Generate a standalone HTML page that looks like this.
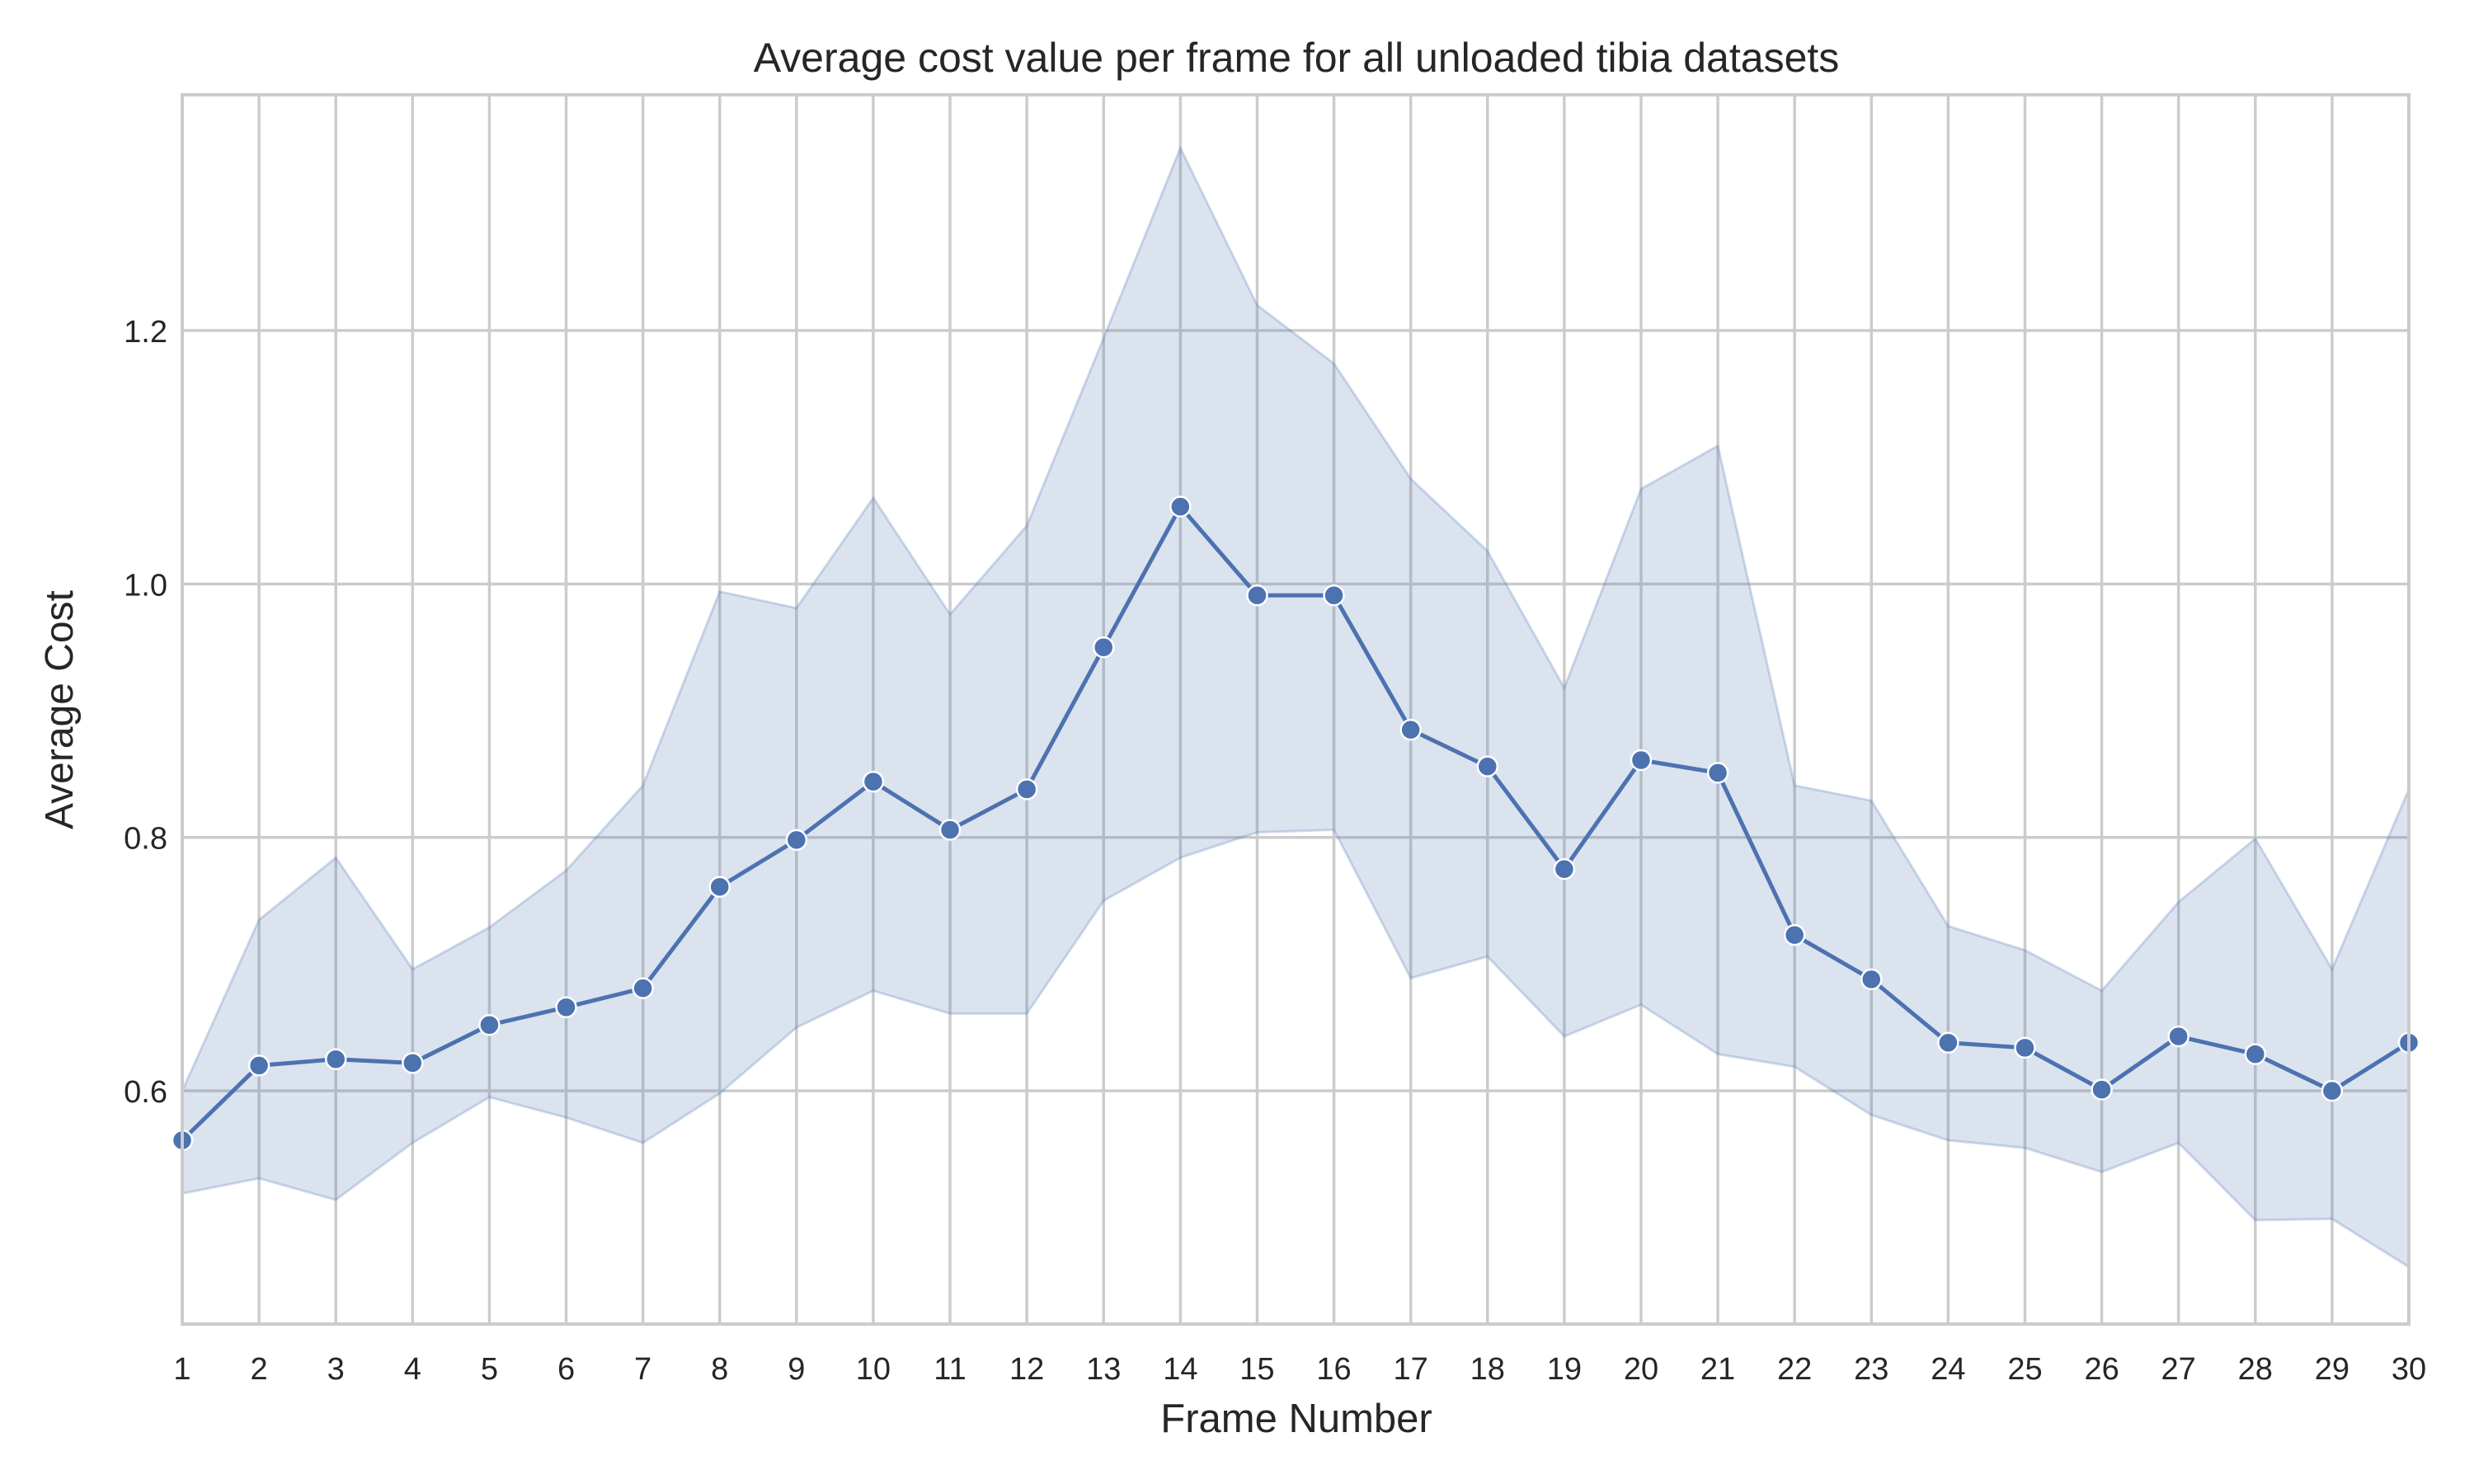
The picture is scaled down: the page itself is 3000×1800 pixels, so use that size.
<!DOCTYPE html>
<html><head><meta charset="utf-8"><style>
html,body{margin:0;padding:0;background:#fff;}
svg{display:block;font-family:"Liberation Sans",Arial,sans-serif;}
</style></head><body>
<svg id="chart" width="3000" height="1800" viewBox="0 0 3000 1800">
<rect width="3000" height="1800" fill="#fff"/>
<g id="grid"></g>
<g id="band"></g>
<g id="series"></g>
<g id="spines"></g>
<g id="ticks"></g>
<text x="1572" y="87" font-size="50" text-anchor="middle" fill="#262626">Average cost value per frame for all unloaded tibia datasets</text>
<text x="1572" y="1737" font-size="49" text-anchor="middle" fill="#262626">Frame Number</text>
<text x="0" y="0" font-size="48" text-anchor="middle" fill="#262626" transform="translate(88,861) rotate(-90)">Average Cost</text>
</svg>
<script>
const frames = [1,2,3,4,5,6,7,8,9,10,11,12,13,14,15,16,17,18,19,20,21,22,23,24,25,26,27,28,29,30];
const meanCost = [0.561,0.620,0.625,0.622,0.652,0.666,0.681,0.761,0.798,0.844,0.806,0.838,0.950,1.061,0.991,0.991,0.885,0.856,0.775,0.861,0.851,0.723,0.688,0.638,0.634,0.601,0.643,0.629,0.600,0.638];
const upperCost = [0.600,0.735,0.784,0.696,0.729,0.774,0.841,0.994,0.981,1.068,0.976,1.046,1.194,1.344,1.220,1.174,1.083,1.026,0.918,1.075,1.109,0.841,0.829,0.730,0.711,0.679,0.749,0.799,0.696,0.838];
const lowerCost = [0.519,0.531,0.514,0.559,0.595,0.579,0.559,0.598,0.650,0.679,0.661,0.661,0.750,0.784,0.804,0.806,0.689,0.706,0.643,0.668,0.629,0.619,0.581,0.561,0.555,0.536,0.559,0.498,0.499,0.461];
const yTicks = [0.6,0.8,1.0,1.2];
const yTickLabels = ["0.6","0.8","1.0","1.2"];

const NS="http://www.w3.org/2000/svg";
const L=221,R=2921,T=115,B=1606;
const yMin=0.416,yMax=1.386;
function xs(f){return L+(f-1)*(R-L)/29;}
function ys(v){return B-(v-yMin)*(B-T)/(yMax-yMin);}
function mk(tag,attrs,parent){const e=document.createElementNS(NS,tag);for(const k in attrs)e.setAttribute(k,attrs[k]);parent.appendChild(e);return e;}
const grid=document.getElementById('grid'),band=document.getElementById('band'),series=document.getElementById('series'),spines=document.getElementById('spines'),ticks=document.getElementById('ticks');
const GC="#cccccc";
frames.forEach(f=>{
  const l=mk('line',{x1:xs(f),x2:xs(f),y1:T,y2:B,stroke:GC,'stroke-width':3.5},grid);
  
  
  const t=mk('text',{x:xs(f),y:1673,'font-size':38,'text-anchor':'middle',fill:'#262626'},ticks);
  t.textContent=String(f);
  
  
});
yTicks.forEach((v,i)=>{
  const l=mk('line',{x1:L,x2:R,y1:ys(v),y2:ys(v),stroke:GC,'stroke-width':3.5},grid);
  
  
  const t=mk('text',{x:203,y:ys(v)+14,'font-size':38,'text-anchor':'end',fill:'#262626'},ticks);
  t.textContent=yTickLabels[i];
  
  
});
let d='';
frames.forEach((f,i)=>{d+=(i?'L':'M')+xs(f)+','+ys(upperCost[i]);});
for(let i=frames.length-1;i>=0;i--){d+='L'+xs(frames[i])+','+ys(lowerCost[i]);}
d+='Z';
const p=mk('path',{d:d,fill:'rgba(76,114,176,0.2)',stroke:'rgba(76,114,176,0.25)','stroke-width':3},band);


const pts=frames.map((f,i)=>xs(f)+','+ys(meanCost[i])).join(' ');
const pl=mk('polyline',{points:pts,fill:'none',stroke:'#4c72b0','stroke-width':5,'stroke-linejoin':'round'},series);


frames.forEach((f,i)=>{
  const c=mk('circle',{cx:xs(f),cy:ys(meanCost[i]),r:12,fill:'#4c72b0',stroke:'#fff','stroke-width':2.5},series);
  
  
});
const fr=mk('rect',{x:L,y:T,width:R-L,height:B-T,fill:'none',stroke:GC,'stroke-width':4},spines);


</script>
</body></html>
